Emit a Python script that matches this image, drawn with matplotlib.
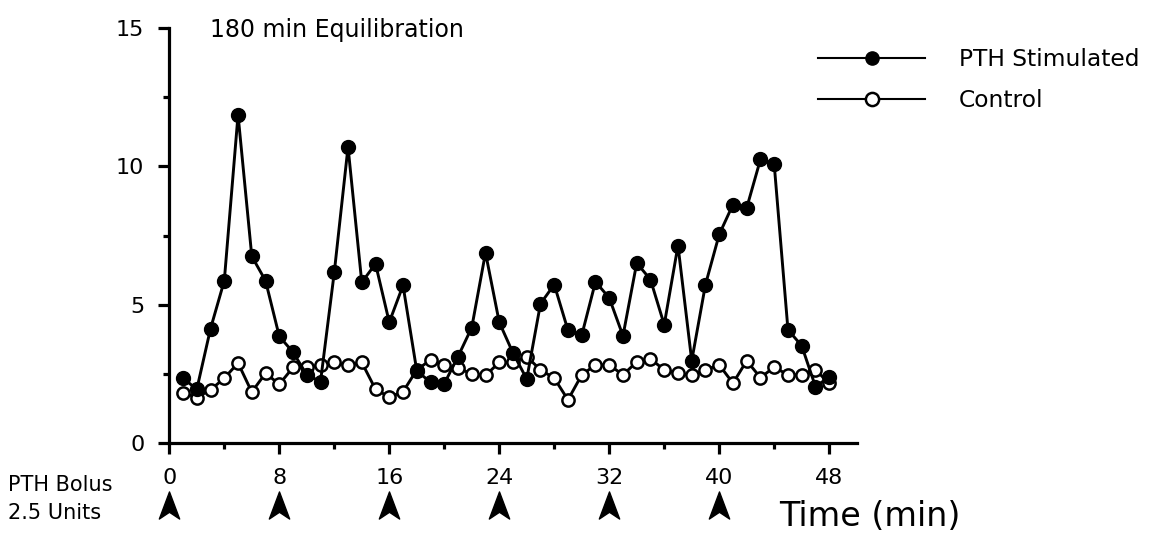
import matplotlib
matplotlib.use("Agg")
import matplotlib.pyplot as plt
from matplotlib.path import Path
import numpy as np

plt.rcParams['font.family'] = ['DejaVu Sans']

# Sampling times (min)
time_min = list(range(1, 49))

# PTH stimulated series
pth_stimulated = [2.35, 1.95, 4.14, 5.87, 11.86, 6.75, 5.87, 3.86, 3.29, 2.47,
                  2.23, 6.17, 10.70, 5.81, 6.48, 4.37, 5.70, 2.62, 2.20, 2.15,
                  3.13, 4.18, 6.88, 4.37, 3.26, 2.32, 5.04, 5.73, 4.08, 3.90,
                  5.83, 5.25, 3.88, 6.51, 5.91, 4.28, 7.14, 2.98, 5.73, 7.54,
                  8.62, 8.50, 10.25, 10.07, 4.10, 3.52, 2.05, 2.39]

# Control series
control = [1.83, 1.65, 1.93, 2.35, 2.90, 1.85, 2.53, 2.13, 2.74, 2.74,
           2.83, 2.92, 2.81, 2.92, 1.95, 1.67, 1.86, 2.65, 3.01, 2.81,
           2.71, 2.51, 2.45, 2.92, 2.92, 3.13, 2.65, 2.35, 1.57, 2.47,
           2.83, 2.83, 2.47, 2.94, 3.05, 2.65, 2.53, 2.45, 2.65, 2.83,
           2.17, 2.98, 2.37, 2.75, 2.47, 2.47, 2.65, 2.17]

# Times of PTH bolus injections
bolus_times = [0, 8, 16, 24, 32, 40]

x_major = [0, 8, 16, 24, 32, 40, 48]
x_minor = [4, 12, 20, 28, 36, 44]
y_major = [0, 5, 10, 15]
y_minor = [2.5, 7.5, 12.5]

W, H = 1157, 540
fig = plt.figure(figsize=(W / 100, H / 100), dpi=100)
ax = fig.add_axes([169.3 / W, 1 - 443.3 / H, (856.7 - 169.3) / W, (443.3 - 27.8) / H])

ax.plot(time_min, control, '-o', color='black', lw=2.1, ms=8.8,
        mfc='white', mec='black', mew=1.8, label='Control', zorder=3)
ax.plot(time_min, pth_stimulated, '-o', color='black', lw=2.1, ms=10,
        mfc='black', mec='black', label='PTH Stimulated', zorder=4)

ax.set_xlim(0, 50)
ax.set_ylim(0, 15)

for s in ['top', 'right']:
    ax.spines[s].set_visible(False)
for s in ['left', 'bottom']:
    ax.spines[s].set_linewidth(2.3)
ax.spines['left'].set_bounds(0, 15)

ax.set_xticks(x_major)
ax.set_xticks(x_minor, minor=True)
ax.set_yticks(y_major)
ax.set_yticks(y_minor, minor=True)
ax.tick_params(axis='both', which='major', length=8, width=2.3, labelsize=16)
ax.tick_params(axis='both', which='minor', length=4.3, width=2.3)
ax.tick_params(axis='x', which='major', pad=10)
ax.tick_params(axis='y', which='major', pad=10)

# Equilibration note
fig.text(210 / W, 1 - 30 / H, '180 min Equilibration', fontsize=17,
         ha='left', va='center')

# Legend
handles, labels = ax.get_legend_handles_labels()
leg = fig.legend(handles[::-1], labels[::-1], loc='upper left',
                 bbox_to_anchor=(818 / W, 1 - 48 / H), frameon=False,
                 fontsize=16.8, handlelength=4.6, handletextpad=1.45,
                 labelspacing=0.78, borderpad=0, borderaxespad=0)
for h in leg.legend_handles:
    h.set_linewidth(1.5)
    h.set_markersize(9.5)

# Bolus markers below the axis
arrow = Path([(0, 1), (-0.75, -1), (0, -0.5), (0.75, -1), (0, 1)],
             [Path.MOVETO, Path.LINETO, Path.LINETO, Path.LINETO, Path.CLOSEPOLY])
trans = ax.get_xaxis_transform()
arrow_y = -(505 - 443.3) / (443.3 - 27.8)
ax.plot(bolus_times, [arrow_y] * len(bolus_times), linestyle='none',
        marker=arrow, ms=19.5, color='black', transform=trans, clip_on=False)

fig.text(8 / W, 1 - 485 / H, 'PTH Bolus', fontsize=15, ha='left', va='center')
fig.text(8 / W, 1 - 513 / H, '2.5 Units', fontsize=15, ha='left', va='center')
fig.text(779 / W, 1 - 517 / H, 'Time (min)', fontsize=24, ha='left', va='center')

fig.savefig('out.png', dpi=100)
